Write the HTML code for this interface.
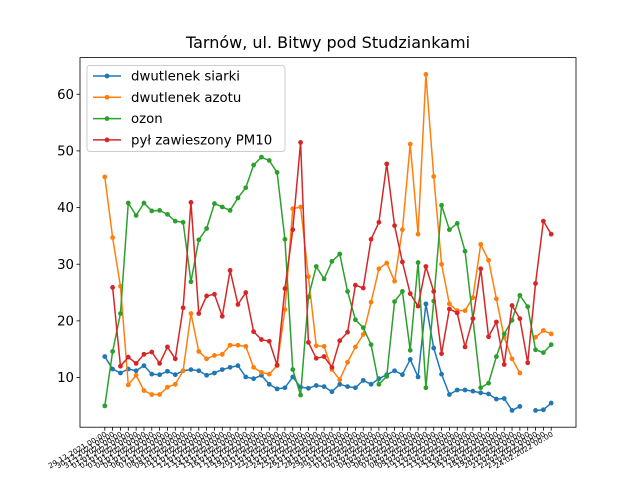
<!DOCTYPE html>
<html><head><meta charset="utf-8"><style>
body{margin:0;background:#fff}
svg{display:block;font-family:"DejaVu Sans","Liberation Sans",sans-serif}
</style></head><body>
<svg id="chart" width="640" height="480" viewBox="0 0 640 480">
<rect width="640" height="480" fill="#fff"/>
<text x="328" y="48" text-anchor="middle" font-size="16" fill="#000">Tarnów, ul. Bitwy pod Studziankami</text>
<g id="grid"></g>
<g id="series"></g>
<rect x="80" y="57.6" width="496" height="369.6" fill="none" stroke="#000" stroke-width="0.8"/>
<g id="legend"></g>
</svg>
<script>
const so2 = [13.7,11.5,10.8,11.5,11.2,12.1,10.6,10.5,11.1,10.5,11.2,11.4,11.2,10.4,10.8,11.4,11.8,12.1,10.1,9.8,10.4,8.8,8.0,8.2,10.1,8.3,8.1,8.6,8.4,7.5,8.8,8.4,8.2,9.5,8.8,9.8,10.5,11.2,10.5,13.2,10.1,23.0,15.2,10.6,7.0,7.8,7.8,7.6,7.3,7.1,6.2,6.3,4.2,4.9,null,4.2,4.3,5.5];
const no2 = [45.4,34.7,26.1,8.7,10.4,7.7,7.0,7.0,8.3,8.8,11.2,21.3,14.6,13.3,13.9,14.1,15.7,15.7,15.5,11.8,10.9,10.6,12.1,22.0,39.8,40.1,27.8,15.6,15.5,11.4,9.6,12.7,15.4,17.6,23.3,29.2,30.2,27.0,36.1,51.2,35.3,63.5,45.5,30.0,23.0,21.8,21.8,24.1,33.5,30.7,23.9,17.1,13.3,10.8,null,17.1,18.3,17.7];
const o3 = [5.0,14.6,21.3,40.8,38.6,40.8,39.4,39.5,38.8,37.6,37.4,26.9,34.3,36.3,40.7,40.1,39.5,41.7,43.5,47.5,48.9,48.3,46.2,34.4,11.4,6.9,24.2,29.6,27.4,30.5,31.8,25.2,20.2,18.8,15.8,8.8,10.2,23.4,25.2,14.8,30.3,8.2,23.5,40.4,36.1,37.2,32.3,20.4,8.2,9.0,13.7,17.7,20.1,24.5,22.5,14.9,14.4,15.8];
const pm10 = [null,25.9,12.0,13.6,12.5,14.1,14.5,12.5,15.4,13.3,22.3,40.9,21.3,24.4,24.7,20.8,28.9,22.9,25.0,18.1,16.7,16.4,12.2,25.7,36.1,51.5,16.2,13.4,13.7,11.8,16.5,18.0,26.3,25.8,34.4,37.4,47.7,36.8,30.4,24.8,22.6,29.6,25.2,14.2,22.1,21.4,15.4,20.4,29.2,17.2,19.8,12.3,22.7,20.4,12.6,26.6,37.6,35.3];
const seriesNames = ["dwutlenek siarki","dwutlenek azotu","ozon","pył zawieszony PM10"];
const yTicks = [10,20,30,40,50,60];
const startDate = [29,12,2021];

const NS="http://www.w3.org/2000/svg";
const L=80,R=576,T=57.6,B=427.2;
const all=[so2,no2,o3,pm10];
const n=so2.length;
let vals=[];all.forEach(s=>s.forEach(v=>{if(v!==null)vals.push(v);}));
const mn=Math.min(...vals),mx=Math.max(...vals),pad=(mx-mn)*0.05;
const y0=mn-pad,y1=mx+pad;
const xs=i=>L+(R-L)*(0.05+0.9*(n>1?i/(n-1):0.5));
const ys=v=>B-(v-y0)/(y1-y0)*(B-T);
function mk(t,a,p){const e=document.createElementNS(NS,t);for(const k in a)e.setAttribute(k,a[k]);(p||document.getElementById('grid')).appendChild(e);return e;}
const g=document.getElementById('grid');
yTicks.forEach(v=>{const y=ys(v);
 const t=mk('line',{x1:L-3.5,x2:L,y1:y,y2:y,stroke:'#000','stroke-width':0.8},g);
 
 
 const tx=mk('text',{x:L-6,y:y+4.6,'text-anchor':'end','font-size':13.3},g);tx.textContent=v;
 
 
});
const d0=new Date(startDate[2],startDate[1]-1,startDate[0]);
const p2=x=>String(x).padStart(2,'0');
for(let i=0;i<n;i++){const x=xs(i);
 const t=mk('line',{x1:x,x2:x,y1:B,y2:B+3.5,stroke:'#000','stroke-width':0.8},g);
 
 
 const d=new Date(d0.getTime());d.setDate(d0.getDate()+i);
 const lbl=p2(d.getDate())+'.'+p2(d.getMonth()+1)+'.'+d.getFullYear()+' 00:00';
 const tx=mk('text',{x:x+2.5,y:B+8.5,'text-anchor':'end','font-size':7.4,transform:`rotate(-30 ${x+2.5} ${B+8.5})`},g);tx.textContent=lbl;
 
 
}
const colors=['#1f77b4','#ff7f0e','#2ca02c','#d62728'];
const sg=document.getElementById('series');
all.forEach((s,k)=>{
 let d='',pen=false;
 s.forEach((v,i)=>{if(v===null){pen=false;return;}d+=(pen?'L':'M')+xs(i).toFixed(2)+' '+ys(v).toFixed(2)+' ';pen=true;});
 const p=mk('path',{d:d,fill:'none',stroke:colors[k],'stroke-width':1.5,'stroke-linejoin':'round','stroke-linecap':'square'},sg);
 
 
 s.forEach((v,i)=>{if(v===null)return;
  const c=mk('circle',{cx:xs(i),cy:ys(v),r:2.4,fill:colors[k]},sg);
  
  
 });
});
const lg=document.getElementById('legend');
const fr=mk('rect',{x:87,y:65.5,width:198,height:86,rx:3,fill:'#fff','fill-opacity':0.8,stroke:'#ccc','stroke-width':1},lg);


seriesNames.forEach((nm,k)=>{const y=76+k*21.3;
 const ln=mk('line',{x1:93,x2:121,y1:y,y2:y,stroke:colors[k],'stroke-width':1.5},lg);
 
 
 const c=mk('circle',{cx:107,cy:y,r:2.4,fill:colors[k]},lg);
 
 
 const t=mk('text',{x:131,y:y+4.6,'font-size':13.3},lg);t.textContent=nm;
 
 
});
</script>
</body></html>
